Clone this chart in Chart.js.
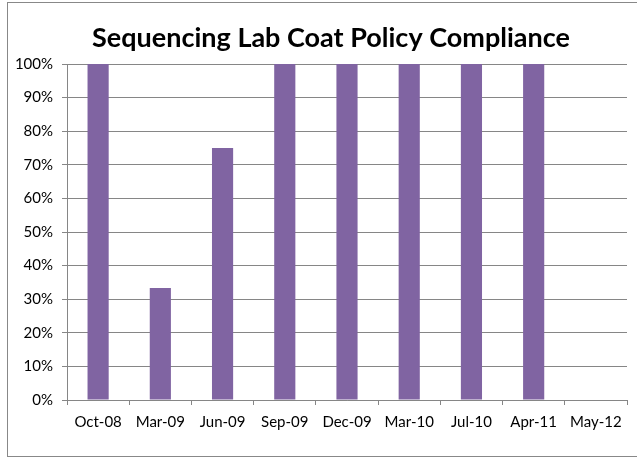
<!DOCTYPE html>
<html>
<head>
<meta charset="utf-8">
<script src="https://cdn.jsdelivr.net/npm/chart.js@4/dist/chart.umd.min.js"></script>
<style>
html,body{margin:0;padding:0;background:#fff;}
#wrap{position:absolute;left:0;top:0;width:637px;height:459px;}
</style>
</head>
<body>
<div id="wrap"><canvas id="c" width="637" height="459"></canvas></div>
<script>
const categories = ["Oct-08","Mar-09","Jun-09","Sep-09","Dec-09","Mar-10","Jul-10","Apr-11","May-12"];
const compliance = [100, 33.33, 75, 100, 100, 100, 100, 100, 0];
const yTicks = [0,10,20,30,40,50,60,70,80,90,100];
const titleText = "Sequencing Lab Coat Policy Compliance";

const decorPlugin = {
  id: 'decor',
  beforeDraw(chart) {
    const ctx = chart.ctx;
    ctx.save();
    ctx.fillStyle = '#fff';
    ctx.fillRect(0,0,chart.width,chart.height);
    ctx.strokeStyle = '#888888';
    ctx.lineWidth = 1;
    ctx.strokeRect(7.5, 2.5, 640, 454);
    ctx.fillStyle = '#000';
    ctx.font = 'bold 27px Lato';
    ctx.textAlign = 'center';
    ctx.textBaseline = 'middle';
    ctx.fillText(titleText, 331, 38);
    ctx.restore();
  }
};

new Chart(document.getElementById('c'), {
  type: 'bar',
  data: {
    labels: categories,
    datasets: [{
      data: compliance,
      backgroundColor: '#8064A2',
      borderWidth: 0,
      barPercentage: 1,
      categoryPercentage: 0.34
    }]
  },
  options: {
    responsive: false,
    animation: false,
    devicePixelRatio: 1,
    layout: { padding: { left: 8, right: 10, top: 64, bottom: 0 } },
    plugins: {
      legend: { display: false },
      tooltip: { enabled: false },
      title: { display: false }
    },
    scales: {
      x: {
        grid: { display: true, drawOnChartArea: false, color: '#868686', tickLength: 5, offset: true },
        border: { display: true, color: '#868686' },
        ticks: { color: '#000', font: { family: 'Lato', size: 15 }, padding: 8, maxRotation: 0, autoSkip: false },
        afterFit(s) { s.height = 59; }
      },
      y: {
        min: 0, max: 100,
        afterBuildTicks(s) { s.ticks = yTicks.map(v => ({ value: v })); },
        grid: { color: '#868686', tickLength: 5 },
        border: { display: true, color: '#868686' },
        ticks: { color: '#000', font: { family: 'Lato', size: 15 }, padding: 9, callback: v => v + '%' },
        afterFit(s) { s.width = 59; }
      }
    }
  },
  plugins: [decorPlugin]
});
</script>
</body>
</html>
